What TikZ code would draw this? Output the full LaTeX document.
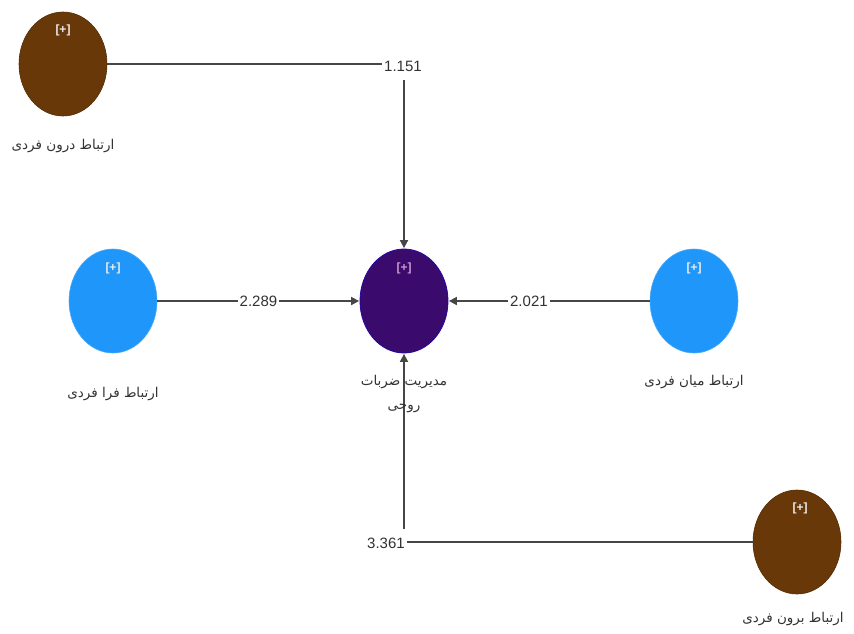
\documentclass[tikz,border=0pt]{standalone}
\usepackage{fontspec}
\setmainfont{Liberation Sans}
\newfontfamily\arabicfont[Script=Arabic]{DejaVu Sans}
\TeXXeTstate=1
\usetikzlibrary{shapes.geometric,arrows.meta}
\definecolor{brownc}{RGB}{104,56,8}
\definecolor{bluec}{RGB}{30,150,250}
\definecolor{purplec}{RGB}{58,10,108}
\definecolor{linec}{RGB}{70,70,70}
\definecolor{textc}{RGB}{50,50,50}
\tikzset{
  lv/.style={ellipse, minimum width=88pt, minimum height=104pt, inner sep=0pt},
  brownlv/.style={lv, fill=brownc, draw=brownc!80!black, line width=0.6pt},
  bluelv/.style={lv, fill=bluec, draw=bluec!80!white, line width=0.6pt},
  purplelv/.style={lv, fill=purplec, draw=purplec!60!blue, line width=0.8pt},
  plus/.style={text=white!85!gray, font=\fontsize{12}{14}\selectfont\bfseries, inner sep=0pt},
  plusp/.style={plus, text=violet!40!white},
  fa/.style={text=textc, font=\arabicfont\fontsize{13.5}{24}\selectfont, align=center, inner sep=1pt},
  num/.style={text=textc, font=\fontsize{15}{17}\selectfont, fill=white, inner sep=2pt},
  conn/.style={draw=linec, line width=1.7pt},
  arr/.style={conn, -{Triangle[length=8pt,width=8pt]}, shorten >=0.5pt}
}
\begin{document}
\begin{tikzpicture}[x=1pt,y=-1pt]
\useasboundingbox (0,0) rectangle (854,633);

% latent variables
\node[brownlv]  (intra) at (63,64)   {};
\node[bluelv]   (trans) at (113,301) {};
\node[purplelv] (mgmt)  at (404,301) {};
\node[bluelv]   (inter) at (694,301) {};
\node[brownlv]  (extra) at (797,542) {};

% [+] markers
\node[plus]  (p1) at (63,30)   {[+]};
\node[plus]  (p2) at (113,268) {[+]};
\node[plusp] (p3) at (404,268) {[+]};
\node[plus]  (p4) at (694,268) {[+]};
\node[plus]  (p5) at (800,508) {[+]};

% labels
\node[fa] (l1) at (63,146)  {\beginR ارتباط درون فردی\endR};
\node[fa] (l2) at (113,394) {\beginR ارتباط فرا فردی\endR};
\node[fa] (l4) at (694,382) {\beginR ارتباط میان فردی\endR};
\node[fa] (l5) at (793,619) {\beginR ارتباط برون فردی\endR};

% top path
\node[num] (v1) at (403,66) {1.151};
\draw[conn] (intra.east) -- (intra.east -| v1.west);
\coordinate (t1) at (404,80);
\draw[arr] (t1) -- (mgmt.north);

% left path
\draw[arr] (trans.east) -- node[num] (v2) {2.289} (mgmt.west);

% right path
\draw[arr] (inter.west) -- node[num, pos=0.6] (v3) {2.021} (mgmt.east);

% bottom path
\node[num, fill=none] (v4) at (386,543) {3.361};
\draw[conn] (extra.west) -- (extra.west -| v4.east);
\coordinate (b1) at (404,529);
\draw[arr] (b1) -- (mgmt.south);

% centre label (over the vertical line)
\node[fa] (l3) at (404,394) {\beginR مدیریت ضربات\endR\\\beginR روحی\endR};
\end{tikzpicture}
\end{document}
